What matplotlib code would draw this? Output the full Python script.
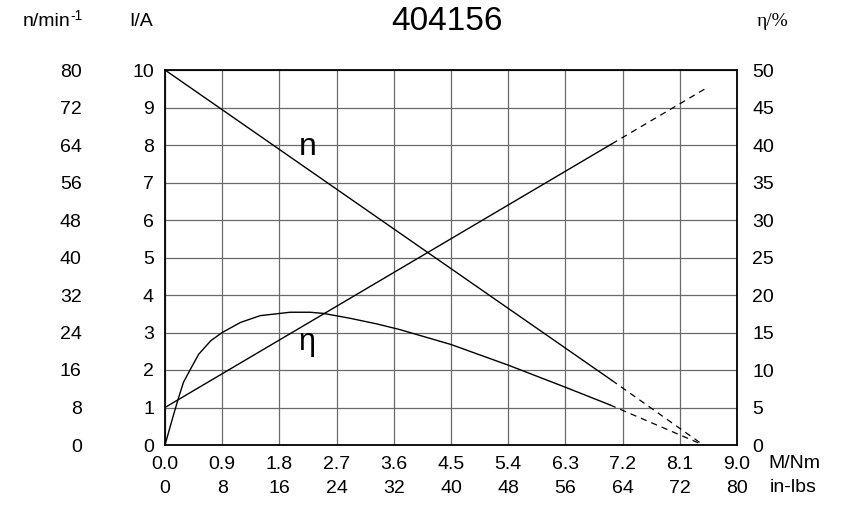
import numpy as np
import matplotlib
matplotlib.use('Agg')
import matplotlib.pyplot as plt

plt.rcParams['font.family'] = ['Liberation Sans', 'DejaVu Sans']

# torque axis (M/Nm)
torque_ticks = [0.0, 0.9, 1.8, 2.7, 3.6, 4.5, 5.4, 6.3, 7.2, 8.1, 9.0]
inlbs_ticks = [0, 8, 16, 24, 32, 40, 48, 56, 64, 72, 80]
current_ticks = list(range(0, 11))
speed_ticks = list(range(0, 81, 8))
eta_ticks = list(range(0, 51, 5))

# speed n (min^-1): solid part and dashed extrapolation
n_solid_x = [0.0, 7.03]
n_solid_y = [80.0, 13.8]
n_dash_x = [7.03, 8.47]
n_dash_y = [13.8, 0.0]

# current I (A)
i_solid_x = [0.0, 7.03]
i_solid_y = [1.0, 8.03]
i_dash_x = [7.03, 8.5]
i_dash_y = [8.03, 9.5]

# efficiency (%)
eta_x = [0.0, 0.13, 0.21, 0.29, 0.40, 0.53, 0.72, 0.90, 1.19, 1.50, 1.97,
         2.28, 2.49, 2.91, 3.33, 3.69, 4.5, 5.4, 6.3, 7.0]
eta_y = [0.0, 3.9, 6.2, 8.35, 10.1, 12.1, 13.9, 15.0, 16.35, 17.25, 17.7,
         17.7, 17.55, 16.9, 16.15, 15.4, 13.4, 10.65, 7.7, 5.35]
eta_dash_x = [7.0, 8.47]
eta_dash_y = [5.35, 0.0]

fig = plt.figure(figsize=(8.56, 5.14), dpi=100)
ax = fig.add_axes([165 / 856, 69 / 514, 572 / 856, 375 / 514])

fs = 14
dash = (0, (5, 4))

# current on main axis
ax.plot(i_solid_x, i_solid_y, color='black', lw=1.0)
ax.plot(i_dash_x, i_dash_y, color='black', lw=0.9, linestyle=dash)
ax.set_xlim(0, 9)
ax.set_ylim(0, 10)
ax.set_xticks(torque_ticks)
ax.set_xticklabels([f'{t:.1f}' for t in torque_ticks])
ax.set_yticks(current_ticks)
ax.grid(True, color='#6a6a6a', lw=0.9)
ax.tick_params(length=0, labelsize=fs)
ax.tick_params(axis='y', pad=8)
ax.tick_params(axis='x', pad=8)
for sp in ax.spines.values():
    sp.set_linewidth(1.3)

# speed axis (left, outer column)
ax_n = ax.twinx()
ax_n.plot(n_solid_x, n_solid_y, color='black', lw=1.0)
ax_n.plot(n_dash_x, n_dash_y, color='black', lw=0.9, linestyle=dash)
ax_n.set_ylim(0, 80)
ax_n.set_yticks(speed_ticks)
ax_n.yaxis.set_ticks_position('left')
ax_n.spines['left'].set_position(('outward', 52))
for sp in ax_n.spines.values():
    sp.set_visible(False)
ax_n.tick_params(length=0, labelsize=fs, pad=8)

# efficiency axis (right)
ax_e = ax.twinx()
ax_e.plot(eta_x, eta_y, color='black', lw=1.0)
ax_e.plot(eta_dash_x, eta_dash_y, color='black', lw=0.9, linestyle=dash)
ax_e.set_ylim(0, 50)
ax_e.set_yticks(eta_ticks)
for sp in ax_e.spines.values():
    sp.set_visible(False)
ax_e.tick_params(length=0, labelsize=fs, pad=11)

# in-lbs axis (second bottom row)
ax_l = ax.secondary_xaxis('bottom', functions=(lambda m: m * 80 / 9, lambda l: l * 9 / 80))
ax_l.set_xticks(inlbs_ticks)
ax_l.spines['bottom'].set_position(('outward', 17))
ax_l.spines['bottom'].set_visible(False)
ax_l.tick_params(length=0, labelsize=fs, pad=8)

# curve labels
ax.text(2.24, 7.96, 'n', fontsize=23, ha='center', va='center')
ax.text(2.24, 2.74, 'η', fontsize=22, ha='center', va='center')

# axis titles
fig.text(447 / 856, 1 - 22 / 514, '404156', fontsize=24, ha='center', va='center')
fig.text(70 / 856, 1 - 22 / 514, 'n/min', fontsize=fs, ha='right', va='center')
fig.text(70 / 856, 1 - 16 / 514, '-1', fontsize=10, ha='left', va='center')
fig.text(141 / 856, 1 - 22 / 514, 'I/A', fontsize=fs, ha='center', va='center')
fig.text(773 / 856, 1 - 22 / 514, 'η/%', fontsize=fs, ha='center', va='center',
         family=['Liberation Serif', 'DejaVu Serif'])
fig.text(768 / 856, 1 - 463 / 514, 'M/Nm', fontsize=fs, ha='left', va='center')
fig.text(770 / 856, 1 - 487 / 514, 'in-lbs', fontsize=fs, ha='left', va='center')

fig.savefig('out.png', dpi=100)
